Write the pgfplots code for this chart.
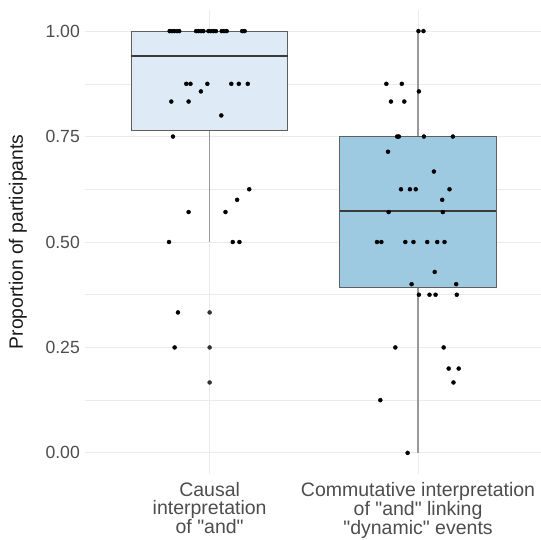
\documentclass[border=0pt]{standalone}
\usepackage{fontspec}
\setmainfont{Liberation Sans}[Ligatures=TeXOff]
\usepackage{pgfplots}
\usepgfplotslibrary{statistics}
\pgfplotsset{compat=1.18}
\definecolor{boxA}{HTML}{DEEBF7}
\definecolor{boxB}{HTML}{9ECAE1}
\definecolor{gridc}{HTML}{EBEBEB}
\definecolor{tickc}{HTML}{4D4D4D}
\definecolor{boxc}{HTML}{5F5F5F}
\definecolor{medc}{HTML}{3A3A3A}
\definecolor{whiskc}{HTML}{999999}
\begin{document}
\begin{tikzpicture}
\useasboundingbox (-84.6pt,-65pt) rectangle (456.4pt,474pt);
\begin{axis}[
  at={(0,0)}, anchor=south west,
  scale only axis, width=456.4pt, height=464pt,
  xmin=0.4, xmax=2.59, ymin=-0.05, ymax=1.05,
  axis line style={draw=none},
  tick style={draw=none},
  major tick length=0pt, minor tick length=0pt,
  boxplot/draw direction=y,
  xtick={1,2},
  xticklabels={{Causal\\interpretation\\of "and"},{Commutative interpretation\\of "and" linking\\"dynamic" events}},
  xticklabel style={align=center, anchor=north, inner sep=0pt, yshift=-8pt, text=tickc, font=\fontsize{19.5}{17.8}\selectfont},
  ytick={0,0.25,0.5,0.75,1},
  yticklabels={0.00,0.25,0.50,0.75,1.00},
  yticklabel style={anchor=east, inner sep=0pt, xshift=-4.6pt, text=tickc, font=\fontsize{17.6}{20}\selectfont},
  minor ytick={0.125,0.375,0.625,0.875},
  ymajorgrids, xmajorgrids, yminorgrids,
  major grid style={draw=gridc, line width=1pt},
  minor grid style={draw=gridc, line width=0.55pt},
  ylabel={Proportion of participants},
  every axis y label/.style={at={(axis description cs:0,0.5)}, rotate=90, anchor=center, yshift=66.6pt, font=\fontsize{19.3}{22}\selectfont, text=black!90},
]
\addplot[boxplot prepared={draw position=1, lower whisker=0.5, lower quartile=0.765, median=0.94, upper quartile=1, upper whisker=1, box extend=0.75, whisker extend=0,
  every whisker/.style={draw=whiskc, line width=1.1pt},
  every box/.style={draw=boxc, fill=boxA, line width=1.1pt},
  every median/.style={draw=medc, line width=1.8pt}}] coordinates {};
\addplot[boxplot prepared={draw position=2, lower whisker=0, lower quartile=0.393, median=0.573, upper quartile=0.75, upper whisker=1, box extend=0.75, whisker extend=0,
  every whisker/.style={draw=whiskc, line width=1.1pt},
  every box/.style={draw=boxc, fill=boxB, line width=1.1pt},
  every median/.style={draw=medc, line width=1.8pt}}] coordinates {};
% outliers of group 1
\addplot[only marks, mark=*, mark size=2pt, color=black!80] coordinates {(1,0.333) (1,0.25) (1,0.167)};
% jittered points, group 1
\addplot[only marks, mark=*, mark size=2pt, black] coordinates {
(0.808,1) (0.819,1) (0.830,1) (0.843,1) (0.854,1) (0.935,1) (0.946,1) (0.959,1) (0.970,1)
(0.994,1) (1.006,1) (1.018,1) (1.030,1) (1.058,1) (1.069,1) (1.082,1) (1.156,1) (1.168,1)
(0.888,0.875) (0.908,0.875) (0.989,0.875) (1.104,0.875) (1.140,0.875) (1.183,0.875)
(0.958,0.857) (0.816,0.833) (0.899,0.833) (1.056,0.8) (0.824,0.75)
(1.190,0.625) (1.132,0.6) (0.899,0.571) (1.076,0.571)
(0.805,0.5) (1.111,0.5) (1.143,0.5)
(0.848,0.333) (0.832,0.25)
};
% jittered points, group 2
\addplot[only marks, mark=*, mark size=2pt, black] coordinates {
(2.002,1) (2.026,1)
(1.848,0.875) (1.922,0.875) (2.004,0.857) (1.870,0.833) (1.934,0.833)
(1.900,0.75) (1.908,0.75) (2.028,0.75) (2.167,0.75)
(1.856,0.714) (2.076,0.667)
(1.918,0.625) (1.961,0.625) (1.989,0.625) (2.151,0.625)
(2.116,0.6) (1.859,0.571) (2.119,0.571)
(1.803,0.5) (1.824,0.5) (1.939,0.5) (1.978,0.5) (2.044,0.5) (2.092,0.5) (2.127,0.5)
(2.080,0.429) (1.969,0.4) (2.183,0.4)
(2.004,0.375) (2.055,0.375) (2.084,0.375) (2.186,0.375)
(1.891,0.25) (2.123,0.25) (2.147,0.2) (2.195,0.2) (2.170,0.167)
(1.819,0.125) (1.950,0)
};
\end{axis}
\end{tikzpicture}
\end{document}
